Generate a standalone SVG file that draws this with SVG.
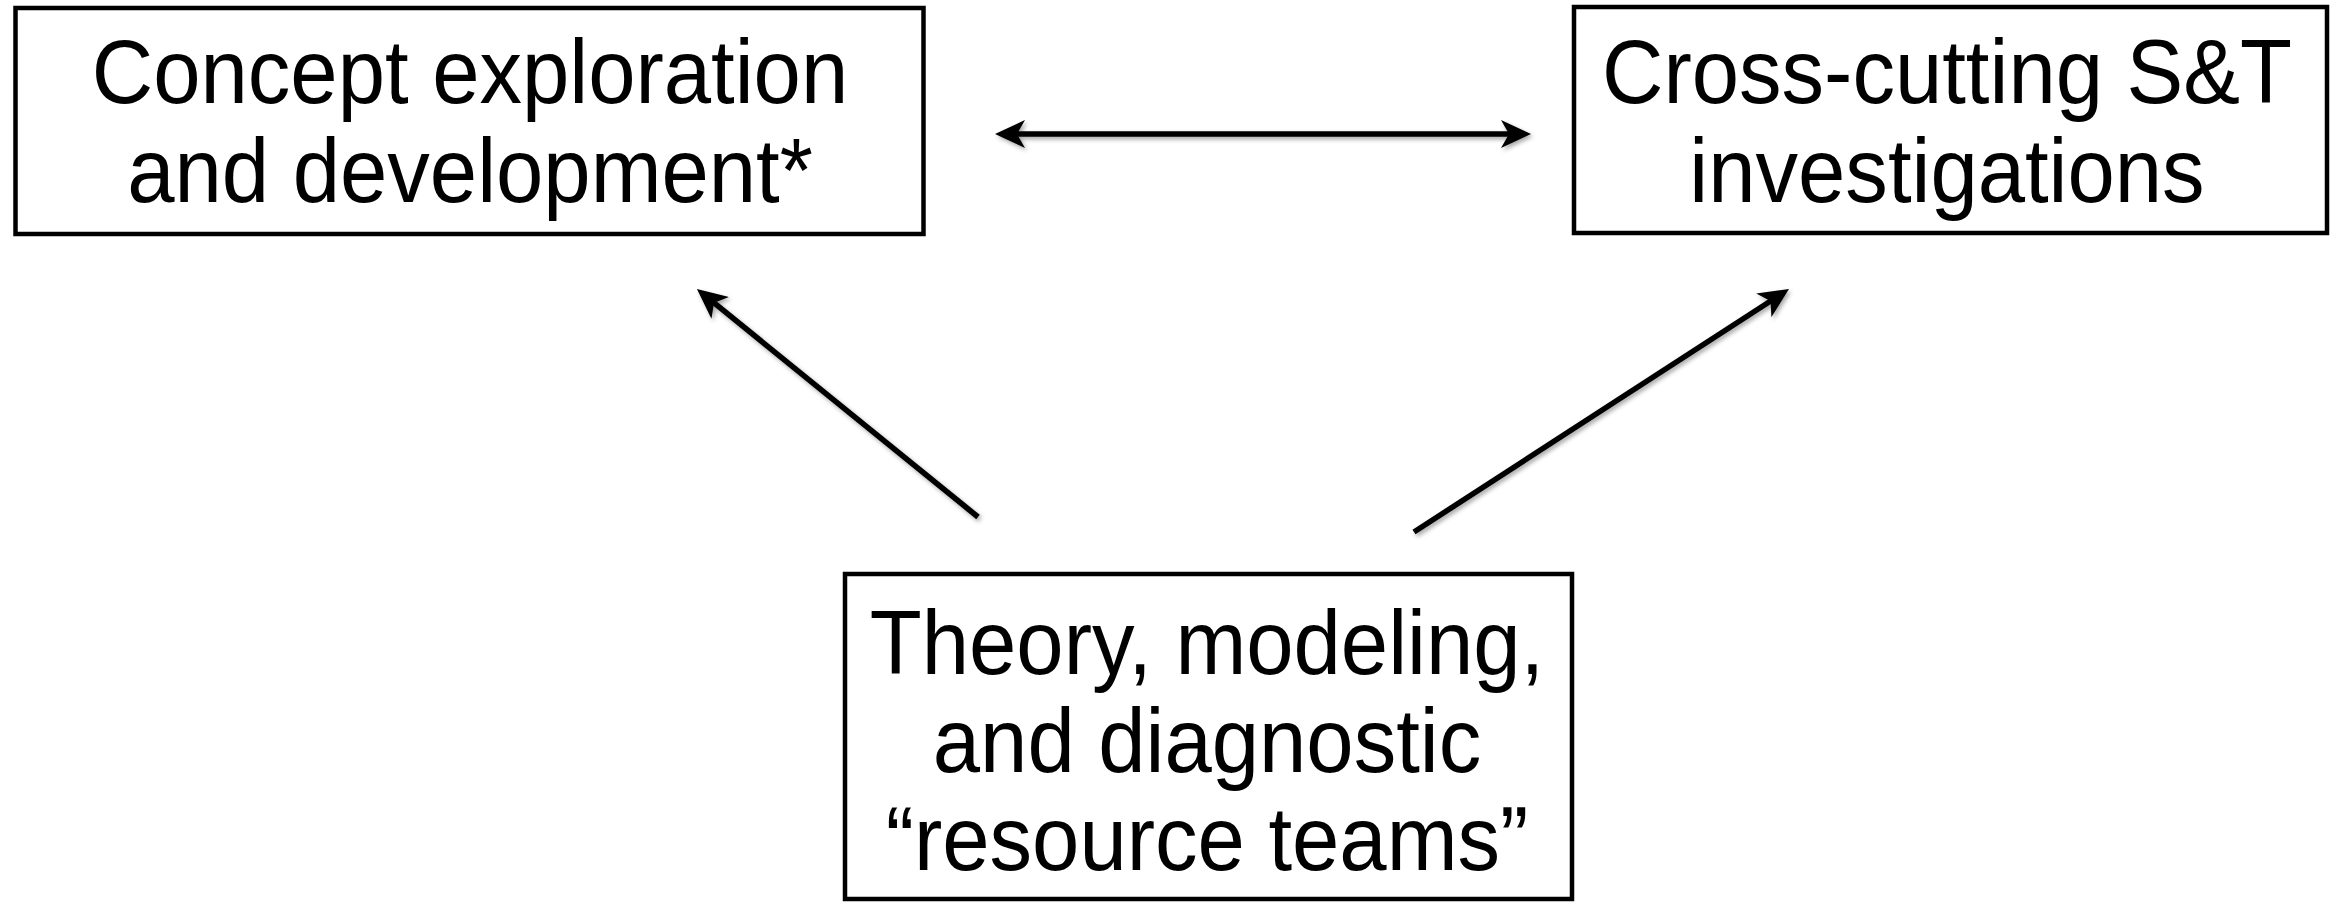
<svg xmlns="http://www.w3.org/2000/svg" width="2336" height="902" viewBox="0 0 2336 902">
<style>
.box{fill:#fff;stroke:#000;stroke-width:4.5}
.t{font-family:"Liberation Sans",Arial,Helvetica,sans-serif;font-size:90px;fill:#000;text-anchor:middle}
.c{stroke:#000;stroke-width:5.5;fill:none}
</style>
<defs>
<filter id="sh" x="-10%" y="-10%" width="120%" height="120%">
<feDropShadow dx="2" dy="2.5" stdDeviation="2" flood-color="#000" flood-opacity="0.35"/>
</filter>
<marker id="ah" markerUnits="userSpaceOnUse" viewBox="0 0 30 28" refX="15" refY="14" markerWidth="30" markerHeight="28" orient="auto-start-reverse">
<path d="M0,0 L30,14 L0,28 L8,14 Z" fill="#000"/>
</marker>
</defs>
<rect width="2336" height="902" fill="#fff"/>
<g id="connectors" filter="url(#sh)">
<line class="c" x1="1010" y1="134" x2="1516" y2="134" marker-start="url(#ah)" marker-end="url(#ah)"/>
<line class="c" x1="978" y1="517" x2="708.6" y2="298.4" marker-end="url(#ah)"/>
<line class="c" x1="1414" y1="532" x2="1776.4" y2="297.2" marker-end="url(#ah)"/>
</g>
<g id="concept">
<rect class="box" x="15.5" y="8" width="908" height="226"/>
<g transform="translate(470,0) scale(0.945,1)">
<text class="t" x="0" y="103">Concept exploration</text>
<text class="t" x="0" y="202">and development*</text>
</g>
</g>
<g id="crosscutting">
<rect class="box" x="1574" y="7" width="753" height="226"/>
<g transform="translate(1947,0) scale(0.945,1)">
<text class="t" x="0" y="103">Cross-cutting S&amp;T</text>
<text class="t" x="0" y="202">investigations</text>
</g>
</g>
<g id="theory">
<rect class="box" x="845" y="574" width="727" height="325"/>
<g transform="translate(1207,0) scale(0.945,1)">
<text class="t" x="0" y="674">Theory, modeling,</text>
<text class="t" x="0" y="772">and diagnostic</text>
<text class="t" x="0" y="870">“resource teams”</text>
</g>
</g>
</svg>
